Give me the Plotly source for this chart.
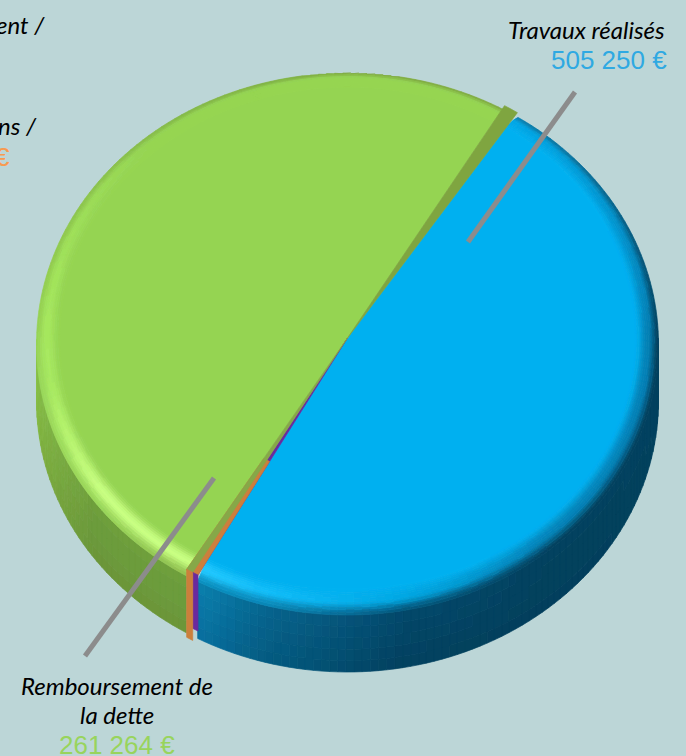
import math
import plotly.graph_objects as go

# ---- data ----
slice_names = ["Travaux réalisés", "Violet", "Orange", "Remboursement de la dette", "Tranche"]
slice_shares = [48.75, 0.31, 0.36, 49.80, 0.78]   # percent of the disc, clockwise
start_angle = 33.3
flat_colors = ["#00b0f0", "#6a2a9e", "#cc7f3c", "#95d452", "#7fa540"]

label_texts = ["Travaux réalisés", "Remboursement de", "la dette", "ent /", "ns /"]
value_texts = ["505 250 €", "261 264 €", "€"]
value_colors = ["#2fa9e2", "#98d45c", "#f79a50"]

BG = "#bcd6d7"
W, H = 686, 756
CX, CY, RX, RY = 347.5, 338.0, 311.0, 271.0
RIM_Z, DEPTH = 6.0, 63.0
BEVEL = 0.925


def rgb(h):
    return tuple(int(h[i:i + 2], 16) for i in (1, 3, 5))


def mix(a, b, t):
    return tuple(a[i] + (b[i] - a[i]) * t for i in range(3))


def hexq(c):
    return "#%02x%02x%02x" % tuple(min(255, int(round(v / 3.0) * 3)) for v in c)


# angle: (bevel middle, bevel rim, wall top, wall bottom)
blue_keys = [
    (33, "#00a8e8", "#0a80b0", "#0a6f9c", "#0a6f9c"),
    (90, "#0380b5", "#03415f", "#03415f", "#03415f"),
    (140, "#0385bb", "#03415f", "#03425f", "#03405c"),
    (170, "#00a8e4", "#04587e", "#04496c", "#03405e"),
    (195, "#10bcf8", "#0a85b5", "#06648e", "#045a80"),
    (209, "#20c8ff", "#0a90c0", "#0a80b0", "#0870a0"),
]
green_keys = [
    (211, "#c8ff80", "#90c050", "#6f9f3c", "#6a963a"),
    (235, "#c8ff80", "#9ad85a", "#6f9f3c", "#6a963a"),
    (260, "#a8ea60", "#9ad85a", "#85bb48", "#7fb040"),
    (280, "#a4e65c", "#94d050", "#90cc4c", "#90cc4c"),
    (320, "#95d452", "#86bc48", "#86bc48", "#86bc48"),
    (360, "#95d452", "#7fae42", "#7fae42", "#7fae42"),
    (392, "#95d452", "#7fae42", "#7fae42", "#7fae42"),
]


def key_at(keys, a):
    if a <= keys[0][0]:
        return [rgb(v) for v in keys[0][1:]]
    for k0, k1 in zip(keys, keys[1:]):
        if a <= k1[0]:
            t = (a - k0[0]) / (k1[0] - k0[0])
            return [mix(rgb(u), rgb(v), t) for u, v in zip(k0[1:], k1[1:])]
    return [rgb(v) for v in keys[-1][1:]]


def pt(a, r, z=0.0):
    th = math.radians(a)
    return CX + RX * r * math.sin(th), CY - RY * r * math.cos(th) + z


def smooth(t):
    return t * t * (3 - 2 * t)


def arange(a0, a1, step=1.5):
    n = max(1, int(math.ceil((a1 - a0) / step)))
    return [a0 + (a1 - a0) * i / n for i in range(n + 1)]


buckets = {"wall": {}, "bevel": {}}


def add_quad(phase, col, pts):
    b = buckets[phase].setdefault(hexq(col), ([], []))
    for p in pts + [pts[0]]:
        b[0].append(p[0])
        b[1].append(p[1])
    b[0].append(None)
    b[1].append(None)


def shaded_slice(a0, a1, flat, keys):
    flat = rgb(flat)
    ang = arange(a0, a1)
    layers = 12
    for u, v in zip(ang, ang[1:]):
        m = (u + v) / 2
        mid, rim, wt, wb = key_at(keys, m)
        for i in range(layers):
            t0, t1 = i / layers, (i + 1) / layers
            tc = (t0 + t1) / 2
            col = mix(flat, mid, smooth(tc / 0.55)) if tc < 0.55 else mix(mid, rim, smooth((tc - 0.55) / 0.45))
            r0 = BEVEL + (1 - BEVEL) * t0
            r1 = BEVEL + (1 - BEVEL) * t1
            z0, z1 = RIM_Z * t0 * t0, RIM_Z * t1 * t1
            add_quad("bevel", col, [pt(u, r0, z0), pt(v, r0, z0), pt(v, r1, z1), pt(u, r1, z1)])
        if max(u, v) >= 90 and min(u, v) <= 270:
            for i in range(5):
                t0, t1 = i / 5, (i + 1) / 5
                col = mix(wt, wb, (t0 + t1) / 2)
                z0 = RIM_Z + (DEPTH - RIM_Z) * t0
                z1 = RIM_Z + (DEPTH - RIM_Z) * t1
                add_quad("wall", col, [pt(u, 1, z0), pt(v, 1, z0), pt(v, 1, z1), pt(u, 1, z1)])


def poly_trace(xs, ys, col, name=None):
    return go.Scatter(x=xs, y=ys, mode="lines", fill="toself", fillcolor=col,
                      line=dict(color=col, width=0.7), hoverinfo="skip",
                      showlegend=False, name=name)


# slice angles from the shares
angles = [start_angle]
for s in slice_shares:
    angles.append(angles[-1] + s * 3.6)
blue_a = angles[0:2]
purple_a = angles[1:3]
orange_a = angles[2:4]
green_a = angles[3:5]
band_a = angles[4:6]

shaded_slice(blue_a[0], blue_a[1], flat_colors[0], blue_keys)
shaded_slice(green_a[0], green_a[1], flat_colors[3], green_keys)

fig = go.Figure()
for col, (xs, ys) in buckets["wall"].items():
    fig.add_trace(poly_trace(xs, ys, col))


def wedge(a0, a1, r0, r1, col, z=0.0, name=None):
    pts = [pt(a0, r0, z)] if r0 == 0 else [pt(a0, r0, z), pt(a1, r0, z)][::-1]
    pts = pts + [pt(a, r1, z) for a in arange(a0, a1)]
    xs = [p[0] for p in pts] + [pts[0][0]]
    ys = [p[1] for p in pts] + [pts[0][1]]
    return poly_trace(xs, ys, col, name)


# flat part of the two big slices
fig.add_trace(wedge(blue_a[0], blue_a[1], 0, BEVEL + 0.002, flat_colors[0], name=slice_names[0]))
fig.add_trace(wedge(green_a[0], green_a[1], 0, BEVEL + 0.002, flat_colors[3], name=slice_names[3]))
for col, (xs, ys) in buckets["bevel"].items():
    fig.add_trace(poly_trace(xs, ys, col))

# the darker green band along the upper seam
fig.add_trace(wedge(band_a[0], band_a[1], 0, 0.995, flat_colors[4], name=slice_names[4]))


def wall_strip(a0, a1, z1, col):
    pts = [pt(a, 0.998, 0) for a in arange(a0, a1, 0.4)]
    pts += [pt(a, 0.998, z1) for a in reversed(arange(a0, a1, 0.4))]
    xs = [p[0] for p in pts] + [pts[0][0]]
    ys = [p[1] for p in pts] + [pts[0][1]]
    return poly_trace(xs, ys, col)


# the two thin slices: top faces then front walls
mid_a = (purple_a[0] + orange_a[1]) / 2
fig.add_trace(wedge(purple_a[0], purple_a[1], 0, 1.0, flat_colors[1], name=slice_names[1]))
fig.add_trace(wedge(purple_a[0], orange_a[1], 0.52, 1.0, flat_colors[2], name=slice_names[2]))
fig.add_trace(wedge(orange_a[0], orange_a[1], 0, 1.0, "#86a848"))
fig.add_trace(wall_strip(purple_a[0], purple_a[1], DEPTH - 7, flat_colors[1]))
fig.add_trace(wall_strip(orange_a[0], orange_a[1], DEPTH + 5, flat_colors[2]))

# leader lines
leader_x = [[575, 468], [214, 85]]
leader_y = [[92, 242], [478, 656]]
for lx, ly in zip(leader_x, leader_y):
    fig.add_trace(go.Scatter(x=lx, y=ly, mode="lines", hoverinfo="skip", showlegend=False,
                             line=dict(color="#8c8c8c", width=5)))

LABEL_FONT = dict(family="Lato", size=24, color="#000000", style="italic")


def label(text, x, y, anchor, font):
    fig.add_annotation(x=x, y=y, text=text, xref="x", yref="y", showarrow=False,
                       xanchor=anchor, yanchor="middle", font=font, borderpad=0)


def vfont(i):
    return dict(family="Liberation Sans", size=26, color=value_colors[i])


label(label_texts[0], 666, 29, "right", LABEL_FONT)
label(value_texts[0], 668, 60, "right", vfont(0))
label(label_texts[1], 117, 685, "center", LABEL_FONT)
label(label_texts[2], 117, 714, "center", LABEL_FONT)
label(value_texts[1], 117, 745, "center", vfont(1))
label(label_texts[3], 46, 24, "right", LABEL_FONT)
label(label_texts[4], 38, 125, "right", LABEL_FONT)
label(value_texts[2], 11, 157, "right", vfont(2))

fig.update_layout(
    width=W, height=H, margin=dict(l=0, r=0, t=0, b=0),
    paper_bgcolor=BG, plot_bgcolor=BG, showlegend=False,
    xaxis=dict(range=[0, W], visible=False, fixedrange=True),
    yaxis=dict(range=[H, 0], visible=False, fixedrange=True),
)
fig.write_html("out.html", config=dict(displayModeBar=False),
               post_script="document.body.style.margin='0';document.body.style.overflow='hidden';")
